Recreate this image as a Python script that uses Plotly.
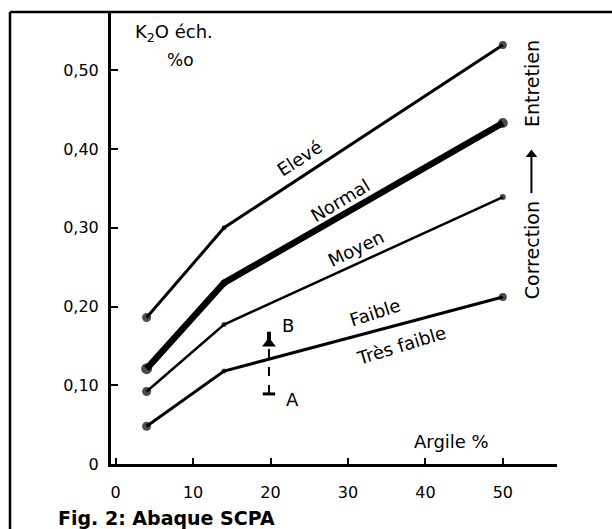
import plotly.graph_objects as go

# ---- data ----
argile = [4, 14, 50]
eleve = [0.186, 0.300, 0.532]
normal = [0.121, 0.230, 0.433]
moyen = [0.092, 0.177, 0.339]
faible = [0.048, 0.118, 0.212]

x_ticks = [0, 10, 20, 30, 40, 50]
x_ticktext = ["0", "10", "20", "30", "40", "50"]
y_ticks = [0, 0.10, 0.20, 0.30, 0.40, 0.50]
y_ticktext = ["0", "0,10", "0,20", "0,30", "0,40", "0,50"]

point_A = (19.8, 0.089)
point_B = (19.8, 0.168)

FONT = "DejaVu Sans"
fig = go.Figure()

series = [
    ("Elevé", eleve, 3, [9, 5, 8]),
    ("Normal", normal, 6.5, [11, 7, 10]),
    ("Moyen", moyen, 2.5, [9, 5, 6]),
    ("Faible", faible, 3, [9, 5, 8]),
]
for name, ys, w, ms in series:
    fig.add_trace(go.Scatter(
        x=argile, y=ys, mode="lines+markers", name=name,
        line=dict(color="black", width=w),
        marker=dict(color="black", size=ms, line=dict(width=0)),
        showlegend=False, hoverinfo="skip"))

# line labels
labels = [
    ("Elevé", 23.7, 0.388, -33),
    ("Normal", 29.0, 0.334, -31),
    ("Moyen", 31.0, 0.274, -26),
    ("Faible", 33.5, 0.192, -18),
    ("Très faible", 36.8, 0.151, -17),
]
for t, x, y, a in labels:
    fig.add_annotation(x=x, y=y, text=t, textangle=a, showarrow=False,
                       font=dict(family=FONT, size=18, color="black"))

# A -> B arrow: dashed stem, T-bar, arrowhead marker
fig.add_shape(type="line", x0=point_A[0], x1=point_A[0], y0=point_A[1], y1=0.150,
              line=dict(color="black", width=2, dash="dash"))
fig.add_shape(type="line", x0=19.0, x1=20.6, y0=point_A[1], y1=point_A[1],
              line=dict(color="black", width=3))
fig.add_shape(type="line", x0=point_B[0], x1=point_B[0], y0=0.150, y1=point_B[1],
              line=dict(color="black", width=4))
fig.add_trace(go.Scatter(x=[point_B[0]], y=[0.153], mode="markers",
                         marker=dict(symbol="triangle-up", size=12, color="black"),
                         showlegend=False, hoverinfo="skip"))
fig.add_annotation(x=22.8, y=0.082, text="A", showarrow=False,
                   font=dict(family=FONT, size=18, color="black"))
fig.add_annotation(x=22.3, y=0.176, text="B", showarrow=False,
                   font=dict(family=FONT, size=18, color="black"))

# axis titles
fig.add_annotation(x=43.4, y=0.028, text="Argile %", showarrow=False,
                   font=dict(family=FONT, size=18, color="black"))
fig.add_annotation(x=2.2, y=0.547, text="K<sub>2</sub>O éch.", showarrow=False,
                   xanchor="left", font=dict(family=FONT, size=18, color="black"))
fig.add_annotation(x=8.4, y=0.513, text="%o", showarrow=False,
                   font=dict(family=FONT, size=17, color="black"))

# right side text with arrow
RX = 53.7
fig.add_annotation(x=RX, y=0.272, text="Correction", textangle=-90, showarrow=False,
                   font=dict(family=FONT, size=19, color="black"))
fig.add_shape(type="line", x0=RX, x1=RX, y0=0.344, y1=0.395,
              line=dict(color="black", width=2))
fig.add_trace(go.Scatter(x=[RX], y=[0.393], mode="markers",
                         marker=dict(symbol="triangle-up", size=10, color="black"),
                         showlegend=False, hoverinfo="skip"))
fig.add_annotation(x=RX, y=0.483, text="Entretien", textangle=-90, showarrow=False,
                   font=dict(family=FONT, size=19, color="black"))

# caption
fig.add_annotation(xref="paper", yref="paper", x=(56 - 111) / 446, y=(464 - 518) / 452,
                   xanchor="left", yanchor="middle", text="<b>Fig. 2: Abaque SCPA</b>",
                   showarrow=False, font=dict(family=FONT, size=19, color="black"))

# outer frame (left and top)
fig.add_shape(type="line", xref="paper", yref="paper",
              x0=(10 - 111) / 446, x1=(10 - 111) / 446, y0=(464 - 12) / 452, y1=(464 - 535) / 452,
              line=dict(color="black", width=2.5))
fig.add_shape(type="line", xref="paper", yref="paper",
              x0=(10 - 111) / 446, x1=(620 - 111) / 446, y0=1.0, y1=1.0,
              line=dict(color="black", width=2.5))

fig.update_xaxes(range=[-0.6, 57.0], tickvals=x_ticks, ticktext=x_ticktext,
                 showgrid=False, zeroline=False, showline=True, linecolor="black",
                 linewidth=3, ticks="inside", ticklen=6, tickwidth=2, tickcolor="black",
                 ticklabelstandoff=12,
                 tickfont=dict(family=FONT, size=16, color="black"))
fig.update_yaxes(range=[0, 0.574], tickvals=y_ticks, ticktext=y_ticktext,
                 showgrid=False, zeroline=False, showline=True, linecolor="black",
                 linewidth=3, ticks="inside", ticklen=7, tickwidth=2, tickcolor="black",
                 ticklabelstandoff=6,
                 tickfont=dict(family=FONT, size=16, color="black"))

fig.update_layout(width=612, height=529,
                  margin=dict(l=111, r=55, t=12, b=65),
                  paper_bgcolor="white", plot_bgcolor="white",
                  font=dict(family=FONT, color="black"))

fig.write_html("out.html")
